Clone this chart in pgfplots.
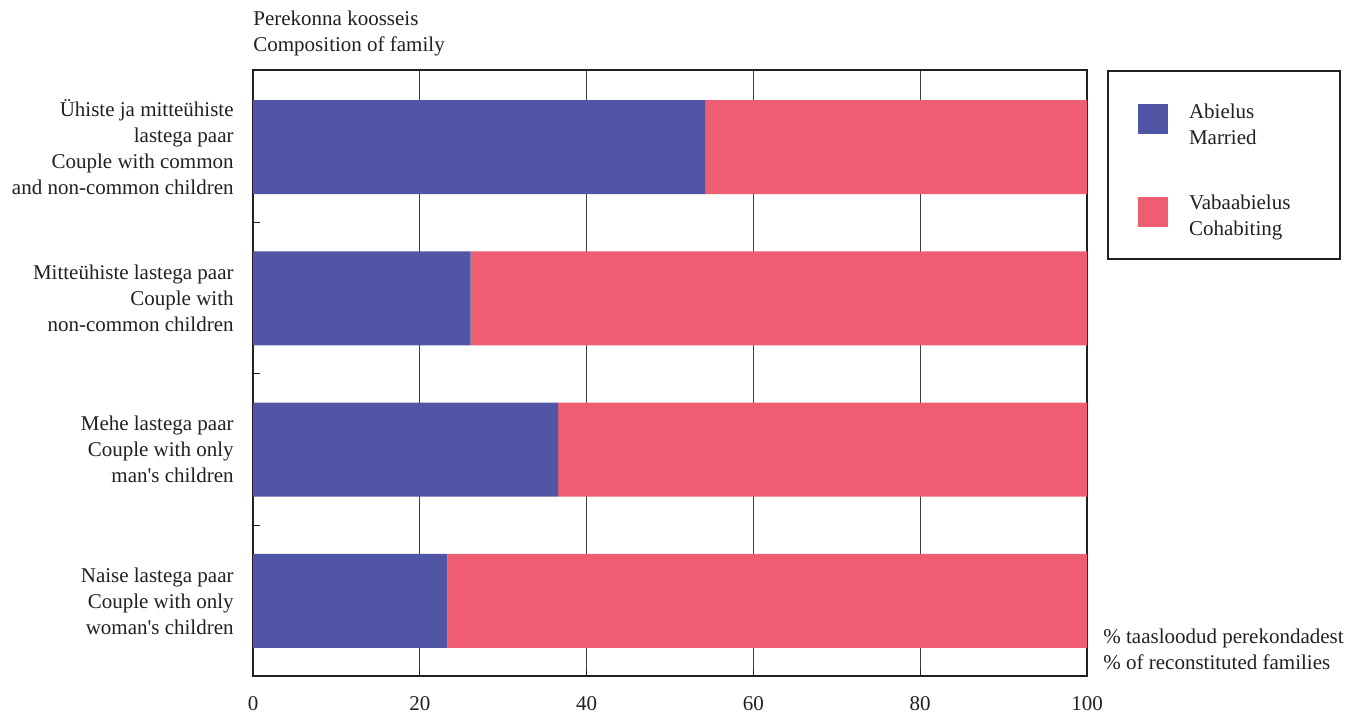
\documentclass[border=0pt]{standalone}
\usepackage{fontspec}
\setmainfont{Liberation Serif}
\usepackage{pgfplots}
\pgfplotsset{compat=1.18}
\definecolor{cblue}{RGB}{81,85,165}
\definecolor{cpink}{RGB}{238,93,114}
\definecolor{txt}{RGB}{35,31,32}
\begin{document}
\fontsize{10.5}{13}\selectfont
\begin{tikzpicture}[font=\fontsize{10.5}{13}\selectfont]
\useasboundingbox (0,0) rectangle (680.5pt,357.5pt);
\begin{axis}[
  at={(126.5pt,19.5pt)}, anchor=south west,
  scale only axis, width=417pt, height=303pt,
  xbar stacked, bar width=47pt,
  xmin=0, xmax=100, ymin=-0.51, ymax=3.497, y dir=reverse,
  xtick={0,20,40,60,80,100},
  ytick={0.5,1.5,2.5}, yticklabels={,,},
  extra y ticks={0,1,2,3},
  extra y tick labels={{Ühiste ja mitteühiste\\lastega paar\\Couple with common\\and non-common children},{Mitteühiste lastega paar\\Couple with\\non-common children},{Mehe lastega paar\\Couple with only\\man\textquotesingle s children},{Naise lastega paar\\Couple with only\\woman\textquotesingle s children}},
  extra y tick style={tick style={draw=none}},
  yticklabel style={align=right, xshift=-6pt, text=txt},
  xticklabel style={yshift=-6.5pt, text=txt},
  xmajorgrids, grid style={black!75, line width=0.5pt},
  axis line style={line width=1pt, draw=txt},
  xtick pos=bottom, ytick pos=left, tick align=inside,
  tick style={draw=txt, line width=0.5pt}, major tick length=3.5pt,
  /pgf/number format/assume math mode=true,
  legend style={at={(1,1)}, anchor=north west, xshift=10pt, yshift=0pt,
    draw=txt, line width=1pt, inner xsep=15pt, inner ysep=14.5pt, row sep=27pt,
    cells={anchor=west, align=left, text=txt}, column sep=8.5pt},
  legend image code/.code={\fill[#1,draw=none] (0pt,-8pt) rectangle (15pt,7pt);},
]
\addplot[fill=cblue, draw=none] coordinates {(54.2,0) (26.1,1) (36.6,2) (23.3,3)};
\addlegendentry{\parbox{58.5pt}{Abielus\\Married}}
\addplot[fill=cpink, draw=none] coordinates {(45.8,0) (73.9,1) (63.4,2) (76.7,3)};
\addlegendentry{\parbox{58.5pt}{Vabaabielus\\Cohabiting}}
\end{axis}
\node[anchor=north west, align=left, inner sep=0pt, text=txt] at (126.5pt,352pt) {Perekonna koosseis\\Composition of family};
\node[anchor=west, align=left, inner sep=0pt, text=txt] at (551.5pt,32.75pt) {\% taasloodud perekondadest\\\% of reconstituted families};
\end{tikzpicture}
\end{document}
